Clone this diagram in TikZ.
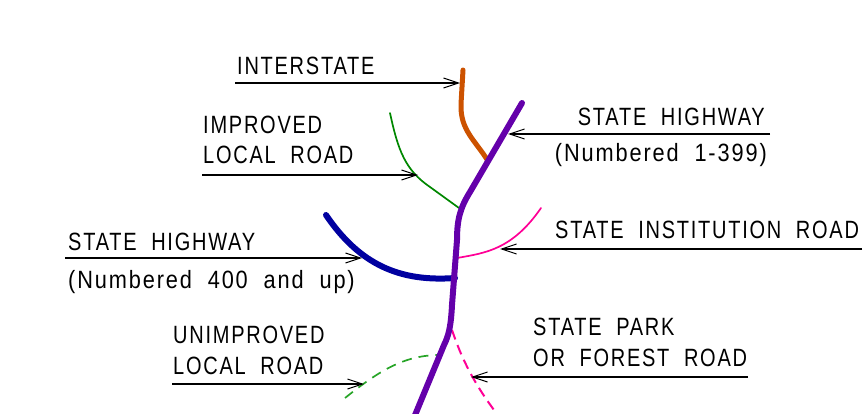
\documentclass[tikz,border=0pt]{standalone}
\usepackage{fontspec}
\setmainfont{Liberation Sans}[FakeStretch=0.8, LetterSpace=7, WordSpace=2]
\newfontfamily\numfont{Liberation Sans}[FakeStretch=0.87, LetterSpace=7.5, WordSpace=2]
\usepackage{tikz}
\usetikzlibrary{arrows.meta}

\definecolor{interstate}{RGB}{204,82,0}
\definecolor{statehwy}{RGB}{100,0,170}
\definecolor{hwyblue}{RGB}{0,0,160}
\definecolor{localgreen}{RGB}{0,135,0}
\definecolor{dashgreen}{RGB}{40,165,40}
\definecolor{instpink}{RGB}{255,0,150}

\begin{document}
\begin{tikzpicture}[x=1pt, y=-1pt,
		label/.style={inner sep=0pt, font=\fontsize{25}{30}\selectfont},
		numlabel/.style={label, font=\fontsize{25}{30}\numfont},
		leader/.style={line width=1.2pt, -{Straight Barb[length=15pt, width=10pt, line width=1pt]}},
		road/.style={line cap=round, line join=round},
		minorroad/.style={road, line width=1.7pt},
		majorroad/.style={road, line width=6pt}
	]
	\useasboundingbox (0,0) rectangle (864,414);

	% roads
	\draw[majorroad, interstate, line width=5pt] (463,70) -- (461,104) .. controls (460,130) and (475,140) .. (488,161);
	\draw[minorroad, localgreen] (390,113) .. controls (398,150) and (405,170) .. (430,187) -- (459,208);
	\draw[majorroad, hwyblue] (326,215) .. controls (360,265) and (400,282) .. (455,278);
	\draw[minorroad, instpink] (457,258) .. controls (485,253) and (512,250) .. (541,208);
	\draw[minorroad, dashgreen, line cap=butt, dash pattern=on 10pt off 7pt] (345,398) .. controls (380,370) and (405,355) .. (440,355);
	\draw[minorroad, instpink, line width=2pt, line cap=butt, dash pattern=on 10pt off 6pt] (452,330) .. controls (462,360) and (475,385) .. (497,414);
	\draw[majorroad, statehwy] (522,103) -- (470,192) .. controls (460,208) and (457,220) .. (457,240) -- (452,305) .. controls (451,325) and (449,335) .. (444,345) -- (413,420);

	% labels
	\node[label, anchor=base west] (interstate-txt) at (237,75) {INTERSTATE};
	\node[label, anchor=base west] (improved-txt) at (203,134) {IMPROVED};
	\node[label, anchor=base west] (improved-txt2) at (203,164) {LOCAL ROAD};
	\node[label, anchor=base east] (hwy-txt) at (765,126) {STATE HIGHWAY};
	\node[numlabel, anchor=base east] (hwy-num) at (767,162) {(Numbered 1-399)};
	\node[label, anchor=base west] (inst-txt) at (555,238) {STATE INSTITUTION ROAD};
	\node[label, anchor=base west] (hwy4-txt) at (68,250) {STATE HIGHWAY};
	\node[numlabel, anchor=base west] (hwy4-num) at (68,288) {(Numbered 400 and up)};
	\node[label, anchor=base west] (unimp-txt) at (173,343) {UNIMPROVED};
	\node[label, anchor=base west] (unimp-txt2) at (173,374) {LOCAL ROAD};
	\node[label, anchor=base west] (park-txt) at (533,335) {STATE PARK};
	\node[label, anchor=base west] (park-txt2) at (533,366) {OR FOREST ROAD};

	% leader lines
	\coordinate (interstate-from) at (235,83);
	\coordinate (interstate-to) at (460,83);
	\coordinate (improved-from) at (202,175);
	\coordinate (improved-to) at (418,175);
	\coordinate (hwy-from) at (770,134);
	\coordinate (hwy-to) at (508,134);
	\coordinate (hwy4-from) at (65,258);
	\coordinate (hwy4-to) at (362,258);
	\coordinate (inst-from) at (862,249);
	\coordinate (inst-to) at (500,249);
	\coordinate (unimp-from) at (172,384);
	\coordinate (unimp-to) at (364,384);
	\coordinate (park-from) at (748,377);
	\coordinate (park-to) at (471,377);

	\foreach \l in {interstate, improved, hwy, hwy4, inst, unimp, park}
		\draw[leader] (\l-from) -- (\l-to);
\end{tikzpicture}
\end{document}
